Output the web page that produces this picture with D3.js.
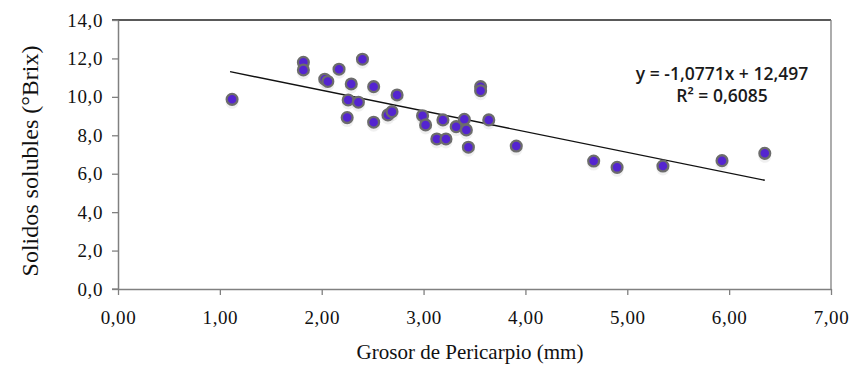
<!DOCTYPE html>
<html>
<head>
<meta charset="utf-8">
<script src="https://cdn.jsdelivr.net/npm/d3@7"></script>
<style>
  html, body { margin: 0; padding: 0; background: #fff; }
  svg { display: block; }
</style>
</head>
<body>
<svg id="chart" width="852" height="365"></svg>
<script>
// ---- Data ----
const grosor = [1.12, 1.82, 1.82, 2.03, 2.06, 2.17, 2.40, 2.29, 2.26, 2.36, 2.25, 2.51, 2.74, 2.51, 2.65, 2.69,
                2.99, 3.02, 3.19, 3.13, 3.22, 3.32, 3.40, 3.42, 3.44, 3.56, 3.56, 3.64, 3.91, 4.67, 4.90, 5.35, 5.93, 6.35];
const solidos = [9.87, 11.80, 11.40, 10.92, 10.80, 11.44, 11.96, 10.67, 9.84, 9.72, 8.92, 10.53, 10.10, 8.68, 9.06, 9.23,
                 9.02, 8.54, 8.80, 7.81, 7.81, 8.45, 8.83, 8.28, 7.38, 10.53, 10.32, 8.80, 7.44, 6.66, 6.33, 6.40, 6.68, 7.06];
const xTicks = [0, 1, 2, 3, 4, 5, 6, 7];
const yTicks = [0, 2, 4, 6, 8, 10, 12, 14];
const slope = -1.0771;
const intercept = 12.497;
const eqLabel = "y = -1,0771x + 12,497";
const r2Label = "R\u00B2 = 0,6085";
const xTitle = "Grosor de Pericarpio (mm)";
const yTitle = "Solidos solubles (\u00B0Brix)";

// ---- Layout ----
const svg = d3.select("#chart");
const L = 118, R = 831, T = 20, B = 289;
const x = d3.scaleLinear().domain([0, 7]).range([L, R]);
const y = d3.scaleLinear().domain([0, 14]).range([B, T]);
const comma = f => (v => d3.format(f)(v).replace(".", ","));

// plot border (top/right)
svg.append("line").attr("x1", L - 6).attr("x2", R).attr("y1", T).attr("y2", T)
  .attr("stroke", "#222").attr("stroke-width", 1.3);
svg.append("line").attr("x1", R).attr("x2", R).attr("y1", T).attr("y2", B)
  .attr("stroke", "#808080").attr("stroke-width", 1.3);

// axes
const xAxis = svg.append("g").attr("transform", `translate(0,${B})`)
  .call(d3.axisBottom(x).tickValues(xTicks).tickFormat(comma(".2f")).tickSizeInner(6).tickSizeOuter(0).tickPadding(16));
const yAxis = svg.append("g").attr("transform", `translate(${L},0)`)
  .call(d3.axisLeft(y).tickValues(yTicks).tickFormat(comma(".1f")).tickSizeInner(6).tickSizeOuter(0).tickPadding(9));

[xAxis, yAxis].forEach(g => {
  g.select(".domain").attr("stroke", "#808080").attr("stroke-width", 1.5);
  g.selectAll(".tick line").attr("stroke", "#808080").attr("stroke-width", 1.3);
  g.selectAll(".tick text").attr("fill", "#111")
    .style("font-family", "'Liberation Serif', 'Times New Roman', serif")
    .style("font-size", "19px").style("letter-spacing", "0.6px");
});
xAxis.selectAll(".tick text").attr("dy", "0.71em");
svg.append("line").attr("x1", L - 6).attr("x2", L).attr("y1", B).attr("y2", B)
  .attr("stroke", "#808080").attr("stroke-width", 1.3);

// titles
svg.append("text").attr("x", 470).attr("y", 359).attr("text-anchor", "middle")
  .style("font-family", "'Liberation Serif', 'Times New Roman', serif").style("font-size", "21px")
  .attr("fill", "#111").text(xTitle);
svg.append("text").attr("transform", "translate(38,161) rotate(-90)").attr("text-anchor", "middle")
  .style("font-family", "'Liberation Serif', 'Times New Roman', serif").style("font-size", "24px")
  .attr("fill", "#111").text(yTitle);

// trend line
const xMin = d3.min(grosor) - 0.02, xMax = d3.max(grosor);
svg.append("line")
  .attr("x1", x(xMin)).attr("y1", y(slope * xMin + intercept))
  .attr("x2", x(xMax)).attr("y2", y(slope * xMax + intercept))
  .attr("stroke", "#111").attr("stroke-width", 1.4);

// points
const pts = grosor.map((g, i) => ({ g, s: solidos[i] }));
svg.append("g").selectAll("circle.sh").data(pts).join("circle")
  .attr("cx", d => x(d.g)).attr("cy", d => y(d.s) + 3).attr("r", 6.5)
  .attr("fill", "#000").attr("opacity", 0.06);
svg.append("g").selectAll("circle.pt").data(pts).join("circle")
  .attr("cx", d => x(d.g)).attr("cy", d => y(d.s)).attr("r", 5.4)
  .attr("fill", "#5424d0").attr("stroke", "#6c6c6c").attr("stroke-width", 2.3);

// equation
const eqFont = "'Open Sans', 'Liberation Sans', sans-serif";
svg.append("text").attr("x", 722).attr("y", 80).attr("text-anchor", "middle")
  .style("font-family", eqFont).style("font-size", "17.5px").style("font-weight", 600)
  .attr("fill", "#1a1a1a").text(eqLabel);
svg.append("text").attr("x", 722).attr("y", 102).attr("text-anchor", "middle")
  .style("font-family", eqFont).style("font-size", "17.5px").style("font-weight", 600)
  .attr("fill", "#1a1a1a").text(r2Label);
</script>
</body>
</html>
